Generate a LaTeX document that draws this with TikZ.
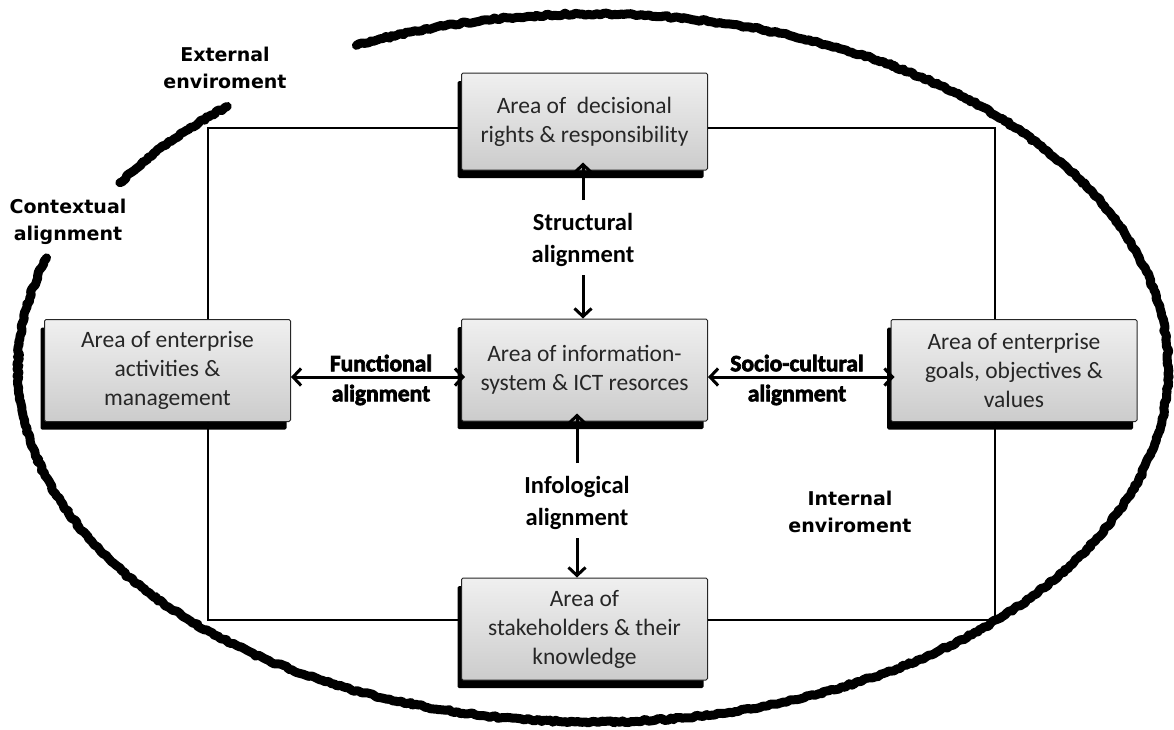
\documentclass[tikz,border=0pt]{standalone}
\usepackage{fontspec}
\setmainfont{Carlito}
\newfontfamily\envfont{DejaVu Sans}
\newfontfamily\heavyfont{Carlito}[BoldFeatures={FakeBold=3}]
\usetikzlibrary{arrows.meta,shadows,decorations.pathmorphing}
\begin{document}
\begin{tikzpicture}[x=1pt,y=-1pt,
  area/.style={draw=black!85, line width=1pt, rounded corners=1.5pt,
    top color=gray!12, bottom color=gray!40, minimum width=246pt, minimum height=102pt,
    inner sep=2pt, text=black!85, font=\fontsize{23.5}{29}\selectfont, align=center,
    general shadow={fill=black, shadow xshift=-4pt, shadow yshift=-8pt}},
  lbl/.style={font=\bfseries\fontsize{24.5}{32}\selectfont, align=center},
  heavy/.style={font=\heavyfont\bfseries\fontsize{23.5}{30}\selectfont, align=center},
  env/.style={font=\envfont\bfseries\fontsize{19}{27}\selectfont, align=center},
  conn/.style={line width=2.2pt},
  arr/.style={line width=3pt, -{Straight Barb[length=8pt,width=17pt]}},
  darr/.style={line width=3pt, {Straight Barb[length=8pt,width=17pt]}-{Straight Barb[length=8pt,width=17pt]}},
  rough/.style={line width=9pt, line cap=round, line join=round, decorate,
    decoration={random steps, segment length=3pt, amplitude=1.2pt}}]

\useasboundingbox (0,0) rectangle (1174,729);

% ellipse (external environment border)
\coordinate (E) at (593,368);
\draw[rough] (E) ++(-114.3:575 and 354) arc[start angle=-114.3, end angle=198.1, x radius=575, y radius=354];
\draw[rough] (E) ++(212.5:561 and 345) arc[start angle=212.5, end angle=229.3, x radius=561, y radius=345];

% boxes
\node[area, minimum height=97pt] (top) at (584.5,121.5) {Area of\ \ decisional\\rights \& responsibility};
\node[area] (ctr) at (584.5,370) {Area of information-\\system \& ICT resorces};
\node[area] (lft) at (167.5,370.5) {Area of enterprise\\activities \&\\management};
\node[area] (rgt) at (1014,370.5) {Area of enterprise\\goals, objectives \&\\values};
\node[area] (bot) at (584.5,629) {Area of\\stakeholders \& their\\knowledge};

% frame lines
\coordinate (TL) at (208,128);
\coordinate (TR) at (995,128);
\coordinate (BL) at (208,620);
\coordinate (BR) at (995,620);
\draw[conn] (top.west |- TL) -- (TL) -- (TL |- lft.north);
\draw[conn] (top.east |- TR) -- (TR) -- (TR |- rgt.north);
\draw[conn] (TL |- lft.south) -- (BL) -- (bot.west |- BL);
\draw[conn] (TR |- rgt.south) -- (BR) -- (bot.east |- BR);

% vertical arrows
\coordinate (s1) at (583,200);
\coordinate (s2) at (583,275);
\draw[arr, shorten >=-8pt] (s1) -- (s1 |- top.south);
\draw[arr] (s2) -- (s2 |- ctr.north);
\node[lbl] (sl) at (583,240) {Structural\\alignment};

\coordinate (i1) at (577,463);
\coordinate (i2) at (577,538);
\draw[arr, shorten >=-8pt] (i1) -- (i1 |- ctr.south);
\draw[arr] (i2) -- (i2 |- bot.north);
\node[lbl] (il) at (577,503) {Infological\\alignment};

% horizontal arrows
\coordinate (fy) at (0,377);
\draw[darr, shorten >=-4pt] (lft.east |- fy) -- (ctr.west |- fy);
\draw[darr, shorten >=-4pt] (ctr.east |- fy) -- (rgt.west |- fy);
\node[heavy] (fl) at (381,380) {Functional\\alignment};
\node[heavy] (scl) at (797,380) {Socio-cultural\\alignment};

% environment labels
\node[env] (ext) at (225,68) {External\\enviroment};
\node[env] (ctx) at (68,222) {Contextual\\alignment};
\node[env] (int) at (850,512) {Internal\\enviroment};
\end{tikzpicture}
\end{document}
